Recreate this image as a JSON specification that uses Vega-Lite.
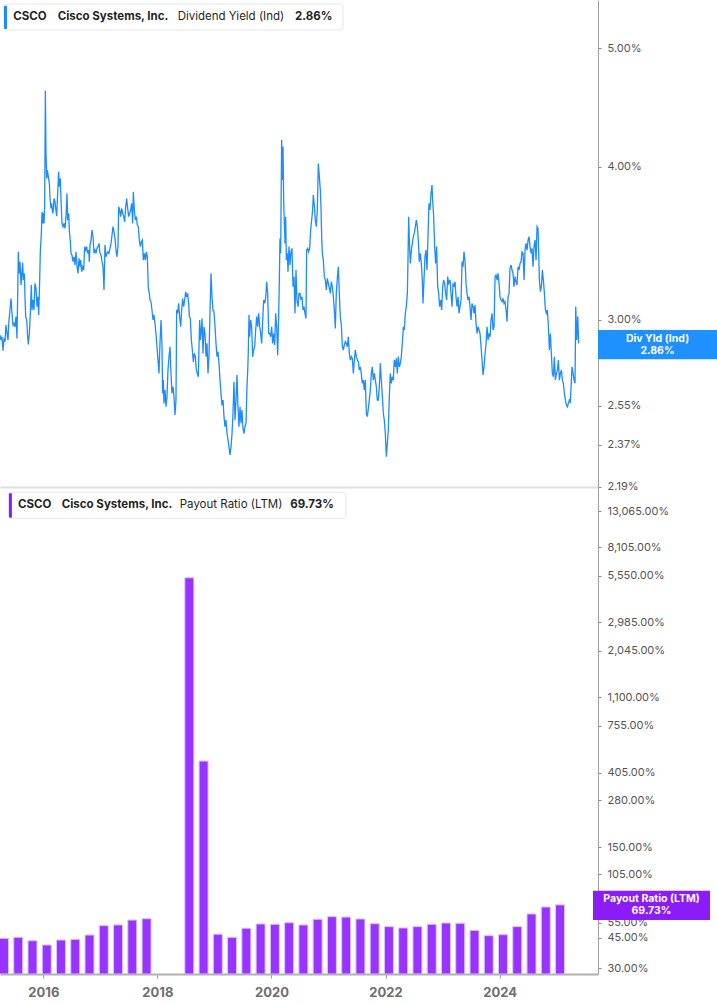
{
  "$schema": "https://vega.github.io/schema/vega-lite/v6.json",
  "padding": 0,
  "background": "white",
  "spacing": 0,
  "bounds": "flush",
  "config": {
    "view": {"stroke": null},
    "axis": {"labelFont": "Inter", "grid": false, "title": null},
    "text": {"font": "Inter"}
  },
  "datasets": {
    "yield": [
      {"year":2015.328,"yield":2.914},{"year":2015.345,"yield":2.887},{"year":2015.362,"yield":2.905},{"year":2015.380,"yield":2.829},{"year":2015.397,"yield":2.896},{"year":2015.414,"yield":2.878},{"year":2015.431,"yield":2.970},{"year":2015.449,"yield":2.923},{"year":2015.466,"yield":2.887},{"year":2015.483,"yield":2.998},{"year":2015.500,"yield":3.055},{"year":2015.518,"yield":3.122},{"year":2015.535,"yield":3.036},{"year":2015.552,"yield":2.970},{"year":2015.569,"yield":2.979},{"year":2015.587,"yield":2.960},{"year":2015.604,"yield":3.017},{"year":2015.621,"yield":2.896},{"year":2015.633,"yield":3.152},{"year":2015.644,"yield":3.409},{"year":2015.656,"yield":3.273},{"year":2015.673,"yield":3.346},{"year":2015.690,"yield":3.202},{"year":2015.707,"yield":3.283},{"year":2015.719,"yield":3.339},{"year":2015.730,"yield":3.232},{"year":2015.748,"yield":3.273},{"year":2015.759,"yield":3.132},{"year":2015.771,"yield":3.017},{"year":2015.788,"yield":2.998},{"year":2015.805,"yield":2.905},{"year":2015.816,"yield":2.863},{"year":2015.834,"yield":2.923},{"year":2015.851,"yield":3.036},{"year":2015.868,"yield":3.202},{"year":2015.880,"yield":3.055},{"year":2015.897,"yield":3.113},{"year":2015.914,"yield":3.055},{"year":2015.931,"yield":3.212},{"year":2015.949,"yield":3.182},{"year":2015.966,"yield":3.074},{"year":2015.983,"yield":3.132},{"year":2015.995,"yield":3.026},{"year":2016.012,"yield":3.232},{"year":2016.023,"yield":3.409},{"year":2016.041,"yield":3.529},{"year":2016.052,"yield":3.676},{"year":2016.064,"yield":3.596},{"year":2016.075,"yield":3.665},{"year":2016.087,"yield":3.596},{"year":2016.098,"yield":3.711},{"year":2016.110,"yield":4.617},{"year":2016.121,"yield":4.103},{"year":2016.133,"yield":3.914},{"year":2016.144,"yield":3.976},{"year":2016.161,"yield":3.927},{"year":2016.179,"yield":3.878},{"year":2016.190,"yield":3.769},{"year":2016.207,"yield":3.699},{"year":2016.219,"yield":3.734},{"year":2016.236,"yield":3.665},{"year":2016.248,"yield":3.688},{"year":2016.259,"yield":3.769},{"year":2016.276,"yield":3.746},{"year":2016.288,"yield":3.699},{"year":2016.305,"yield":3.646},{"year":2016.322,"yield":3.805},{"year":2016.339,"yield":3.964},{"year":2016.351,"yield":3.853},{"year":2016.368,"yield":3.914},{"year":2016.380,"yield":3.758},{"year":2016.397,"yield":3.596},{"year":2016.414,"yield":3.574},{"year":2016.431,"yield":3.596},{"year":2016.449,"yield":3.562},{"year":2016.466,"yield":3.642},{"year":2016.483,"yield":3.805},{"year":2016.495,"yield":3.619},{"year":2016.512,"yield":3.665},{"year":2016.523,"yield":3.551},{"year":2016.541,"yield":3.474},{"year":2016.552,"yield":3.399},{"year":2016.569,"yield":3.388},{"year":2016.587,"yield":3.346},{"year":2016.604,"yield":3.377},{"year":2016.621,"yield":3.325},{"year":2016.638,"yield":3.409},{"year":2016.656,"yield":3.314},{"year":2016.673,"yield":3.273},{"year":2016.690,"yield":3.367},{"year":2016.707,"yield":3.314},{"year":2016.719,"yield":3.356},{"year":2016.736,"yield":3.283},{"year":2016.753,"yield":3.314},{"year":2016.771,"yield":3.294},{"year":2016.788,"yield":3.442},{"year":2016.805,"yield":3.420},{"year":2016.822,"yield":3.442},{"year":2016.839,"yield":3.399},{"year":2016.857,"yield":3.420},{"year":2016.868,"yield":3.346},{"year":2016.880,"yield":3.452},{"year":2016.897,"yield":3.485},{"year":2016.914,"yield":3.551},{"year":2016.931,"yield":3.507},{"year":2016.949,"yield":3.399},{"year":2016.966,"yield":3.420},{"year":2016.983,"yield":3.399},{"year":2017.000,"yield":3.431},{"year":2017.018,"yield":3.442},{"year":2017.035,"yield":3.463},{"year":2017.052,"yield":3.399},{"year":2017.069,"yield":3.388},{"year":2017.087,"yield":3.346},{"year":2017.104,"yield":3.314},{"year":2017.121,"yield":3.172},{"year":2017.138,"yield":3.452},{"year":2017.156,"yield":3.377},{"year":2017.173,"yield":3.399},{"year":2017.190,"yield":3.409},{"year":2017.207,"yield":3.399},{"year":2017.225,"yield":3.431},{"year":2017.242,"yield":3.463},{"year":2017.259,"yield":3.518},{"year":2017.276,"yield":3.574},{"year":2017.294,"yield":3.540},{"year":2017.311,"yield":3.496},{"year":2017.328,"yield":3.420},{"year":2017.345,"yield":3.377},{"year":2017.362,"yield":3.442},{"year":2017.374,"yield":3.711},{"year":2017.391,"yield":3.688},{"year":2017.408,"yield":3.642},{"year":2017.426,"yield":3.699},{"year":2017.443,"yield":3.665},{"year":2017.460,"yield":3.642},{"year":2017.477,"yield":3.607},{"year":2017.495,"yield":3.711},{"year":2017.512,"yield":3.769},{"year":2017.529,"yield":3.699},{"year":2017.546,"yield":3.642},{"year":2017.564,"yield":3.665},{"year":2017.581,"yield":3.688},{"year":2017.598,"yield":3.734},{"year":2017.615,"yield":3.596},{"year":2017.627,"yield":3.817},{"year":2017.644,"yield":3.688},{"year":2017.661,"yield":3.619},{"year":2017.679,"yield":3.642},{"year":2017.696,"yield":3.585},{"year":2017.713,"yield":3.574},{"year":2017.730,"yield":3.485},{"year":2017.748,"yield":3.442},{"year":2017.765,"yield":3.474},{"year":2017.782,"yield":3.485},{"year":2017.799,"yield":3.356},{"year":2017.816,"yield":3.399},{"year":2017.834,"yield":3.356},{"year":2017.851,"yield":3.409},{"year":2017.868,"yield":3.377},{"year":2017.885,"yield":3.182},{"year":2017.903,"yield":3.152},
      {"year":2017.914,"yield":3.113},{"year":2017.931,"yield":3.103},{"year":2017.948,"yield":3.055},{"year":2017.966,"yield":2.998},{"year":2017.983,"yield":3.026},{"year":2018.000,"yield":2.979},{"year":2018.017,"yield":2.923},{"year":2018.035,"yield":2.851},{"year":2018.052,"yield":2.780},{"year":2018.069,"yield":2.711},{"year":2018.086,"yield":2.869},{"year":2018.104,"yield":2.998},{"year":2018.121,"yield":2.851},{"year":2018.132,"yield":2.611},{"year":2018.144,"yield":2.677},{"year":2018.155,"yield":2.562},{"year":2018.173,"yield":2.627},{"year":2018.190,"yield":2.546},{"year":2018.207,"yield":2.595},{"year":2018.224,"yield":2.728},{"year":2018.242,"yield":2.798},{"year":2018.259,"yield":2.851},{"year":2018.276,"yield":2.711},{"year":2018.293,"yield":2.611},{"year":2018.311,"yield":2.644},{"year":2018.328,"yield":2.595},{"year":2018.345,"yield":2.507},{"year":2018.362,"yield":2.578},{"year":2018.374,"yield":3.055},{"year":2018.391,"yield":3.036},{"year":2018.408,"yield":3.093},{"year":2018.425,"yield":3.017},{"year":2018.443,"yield":2.960},{"year":2018.460,"yield":3.055},{"year":2018.477,"yield":3.122},{"year":2018.494,"yield":3.074},{"year":2018.512,"yield":3.113},{"year":2018.529,"yield":3.162},{"year":2018.546,"yield":3.132},{"year":2018.563,"yield":3.152},{"year":2018.581,"yield":3.093},{"year":2018.592,"yield":3.017},{"year":2018.609,"yield":3.007},{"year":2018.627,"yield":2.887},{"year":2018.644,"yield":2.833},{"year":2018.661,"yield":2.771},{"year":2018.678,"yield":2.815},{"year":2018.696,"yield":2.798},{"year":2018.713,"yield":2.728},{"year":2018.730,"yield":2.711},{"year":2018.747,"yield":2.694},{"year":2018.759,"yield":2.851},{"year":2018.770,"yield":2.998},{"year":2018.782,"yield":2.887},{"year":2018.793,"yield":2.923},{"year":2018.811,"yield":3.007},{"year":2018.828,"yield":2.815},{"year":2018.845,"yield":2.960},{"year":2018.862,"yield":2.923},{"year":2018.880,"yield":2.798},{"year":2018.897,"yield":2.869},{"year":2018.914,"yield":2.711},{"year":2018.931,"yield":2.798},{"year":2018.948,"yield":3.036},{"year":2018.966,"yield":3.273},{"year":2018.983,"yield":3.132},{"year":2019.000,"yield":3.055},{"year":2019.017,"yield":3.045},{"year":2019.035,"yield":2.960},{"year":2019.052,"yield":2.869},{"year":2019.069,"yield":2.798},{"year":2019.086,"yield":2.824},{"year":2019.104,"yield":2.763},{"year":2019.121,"yield":2.677},{"year":2019.138,"yield":2.611},{"year":2019.155,"yield":2.554},{"year":2019.173,"yield":2.578},{"year":2019.190,"yield":2.499},{"year":2019.207,"yield":2.452},{"year":2019.224,"yield":2.483},{"year":2019.242,"yield":2.421},{"year":2019.259,"yield":2.391},{"year":2019.276,"yield":2.361},{"year":2019.293,"yield":2.325},{"year":2019.311,"yield":2.361},{"year":2019.328,"yield":2.421},{"year":2019.345,"yield":2.514},{"year":2019.362,"yield":2.669},{"year":2019.380,"yield":2.483},{"year":2019.397,"yield":2.578},{"year":2019.414,"yield":2.703},{"year":2019.431,"yield":2.546},{"year":2019.448,"yield":2.452},{"year":2019.466,"yield":2.546},{"year":2019.483,"yield":2.468},{"year":2019.500,"yield":2.530},{"year":2019.517,"yield":2.444},{"year":2019.535,"yield":2.421},{"year":2019.552,"yield":2.452},{"year":2019.569,"yield":2.468},{"year":2019.586,"yield":2.644},{"year":2019.598,"yield":2.720},{"year":2019.609,"yield":2.824},{"year":2019.621,"yield":3.026},{"year":2019.632,"yield":2.905},{"year":2019.650,"yield":2.998},{"year":2019.667,"yield":2.960},{"year":2019.684,"yield":2.798},{"year":2019.701,"yield":2.833},{"year":2019.719,"yield":2.851},{"year":2019.736,"yield":2.942},{"year":2019.753,"yield":3.017},{"year":2019.770,"yield":2.960},{"year":2019.788,"yield":3.036},{"year":2019.805,"yield":2.960},{"year":2019.822,"yield":2.923},{"year":2019.839,"yield":2.869},{"year":2019.857,"yield":2.998},{"year":2019.874,"yield":3.113},{"year":2019.891,"yield":3.093},{"year":2019.908,"yield":3.122},{"year":2019.925,"yield":3.222},{"year":2019.943,"yield":3.152},{"year":2019.960,"yield":2.923},{"year":2019.977,"yield":2.923},{"year":2019.994,"yield":2.905},{"year":2020.012,"yield":2.960},{"year":2020.029,"yield":2.869},{"year":2020.046,"yield":2.923},{"year":2020.063,"yield":2.860},{"year":2020.081,"yield":3.036},{"year":2020.098,"yield":2.960},{"year":2020.115,"yield":2.806},{"year":2020.132,"yield":3.017},{"year":2020.144,"yield":3.232},{"year":2020.155,"yield":3.496},{"year":2020.167,"yield":3.399},{"year":2020.184,"yield":4.207},{"year":2020.196,"yield":3.902},{"year":2020.207,"yield":4.155},{"year":2020.219,"yield":3.758},{"year":2020.230,"yield":3.596},{"year":2020.242,"yield":3.463},{"year":2020.253,"yield":3.642},{"year":2020.265,"yield":3.356},{"year":2020.282,"yield":3.399},{"year":2020.293,"yield":3.283},{"year":2020.311,"yield":3.442},{"year":2020.328,"yield":3.325},{"year":2020.345,"yield":3.409},{"year":2020.362,"yield":3.431},{"year":2020.380,"yield":3.192},{"year":2020.397,"yield":3.253},{"year":2020.414,"yield":3.036},{"year":2020.431,"yield":3.294},{"year":2020.448,"yield":3.113},{"year":2020.466,"yield":3.074},{"year":2020.483,"yield":3.152},
      {"year":2020.500,"yield":3.152},{"year":2020.517,"yield":3.113},{"year":2020.534,"yield":3.132},{"year":2020.552,"yield":3.055},{"year":2020.569,"yield":3.074},{"year":2020.586,"yield":3.036},{"year":2020.603,"yield":3.007},{"year":2020.615,"yield":3.420},{"year":2020.632,"yield":3.431},{"year":2020.649,"yield":3.409},{"year":2020.667,"yield":3.431},{"year":2020.684,"yield":3.551},{"year":2020.701,"yield":3.619},{"year":2020.718,"yield":3.688},{"year":2020.730,"yield":3.793},{"year":2020.747,"yield":3.723},{"year":2020.764,"yield":3.619},{"year":2020.782,"yield":3.574},{"year":2020.799,"yield":3.688},{"year":2020.816,"yield":4.026},{"year":2020.833,"yield":3.927},{"year":2020.851,"yield":3.829},{"year":2020.862,"yield":3.711},{"year":2020.874,"yield":3.507},{"year":2020.885,"yield":3.399},{"year":2020.902,"yield":3.356},{"year":2020.920,"yield":3.253},{"year":2020.937,"yield":3.232},{"year":2020.954,"yield":3.172},{"year":2020.971,"yield":3.243},{"year":2020.989,"yield":3.212},{"year":2021.006,"yield":3.182},{"year":2021.023,"yield":3.152},{"year":2021.040,"yield":3.222},{"year":2021.057,"yield":3.192},{"year":2021.075,"yield":3.132},{"year":2021.092,"yield":3.055},{"year":2021.109,"yield":2.951},{"year":2021.126,"yield":3.152},{"year":2021.144,"yield":3.243},{"year":2021.161,"yield":3.314},{"year":2021.178,"yield":3.152},{"year":2021.195,"yield":3.017},{"year":2021.213,"yield":2.970},{"year":2021.230,"yield":2.851},{"year":2021.247,"yield":2.833},{"year":2021.264,"yield":2.860},{"year":2021.282,"yield":2.878},{"year":2021.299,"yield":2.869},{"year":2021.316,"yield":2.851},{"year":2021.333,"yield":2.905},{"year":2021.351,"yield":2.815},{"year":2021.368,"yield":2.780},{"year":2021.385,"yield":2.798},{"year":2021.402,"yield":2.789},{"year":2021.420,"yield":2.711},{"year":2021.437,"yield":2.780},{"year":2021.454,"yield":2.833},{"year":2021.471,"yield":2.798},{"year":2021.489,"yield":2.780},{"year":2021.506,"yield":2.771},{"year":2021.523,"yield":2.728},{"year":2021.540,"yield":2.745},{"year":2021.557,"yield":2.711},{"year":2021.575,"yield":2.661},{"year":2021.592,"yield":2.677},{"year":2021.609,"yield":2.627},{"year":2021.626,"yield":2.677},{"year":2021.644,"yield":2.514},{"year":2021.661,"yield":2.499},{"year":2021.678,"yield":2.538},{"year":2021.695,"yield":2.578},{"year":2021.713,"yield":2.627},{"year":2021.730,"yield":2.711},{"year":2021.747,"yield":2.745},{"year":2021.764,"yield":2.677},{"year":2021.782,"yield":2.711},{"year":2021.799,"yield":2.677},{"year":2021.816,"yield":2.644},{"year":2021.833,"yield":2.578},{"year":2021.851,"yield":2.578},{"year":2021.868,"yield":2.644},{"year":2021.885,"yield":2.763},{"year":2021.902,"yield":2.677},{"year":2021.920,"yield":2.595},{"year":2021.937,"yield":2.514},{"year":2021.954,"yield":2.483},{"year":2021.971,"yield":2.421},{"year":2021.989,"yield":2.317},{"year":2022.006,"yield":2.376},{"year":2022.023,"yield":2.437},{"year":2022.040,"yield":2.595},{"year":2022.057,"yield":2.711},{"year":2022.075,"yield":2.661},{"year":2022.092,"yield":2.694},{"year":2022.109,"yield":2.677},{"year":2022.126,"yield":2.780},{"year":2022.144,"yield":2.745},{"year":2022.161,"yield":2.789},{"year":2022.178,"yield":2.711},{"year":2022.195,"yield":2.798},{"year":2022.213,"yield":2.745},{"year":2022.230,"yield":2.763},{"year":2022.247,"yield":2.798},{"year":2022.264,"yield":2.869},{"year":2022.282,"yield":2.960},{"year":2022.299,"yield":2.942},{"year":2022.316,"yield":3.036},{"year":2022.333,"yield":3.074},{"year":2022.351,"yield":3.152},{"year":2022.362,"yield":3.356},{"year":2022.374,"yield":3.642},{"year":2022.385,"yield":3.485},{"year":2022.402,"yield":3.335},{"year":2022.420,"yield":3.420},{"year":2022.437,"yield":3.463},{"year":2022.454,"yield":3.507},{"year":2022.471,"yield":3.529},{"year":2022.489,"yield":3.574},{"year":2022.506,"yield":3.619},{"year":2022.523,"yield":3.574},{"year":2022.540,"yield":3.485},{"year":2022.557,"yield":3.346},{"year":2022.575,"yield":3.399},{"year":2022.592,"yield":3.335},{"year":2022.609,"yield":3.232},{"year":2022.621,"yield":3.093},{"year":2022.638,"yield":3.232},{"year":2022.655,"yield":3.377},{"year":2022.672,"yield":3.420},{"year":2022.690,"yield":3.294},{"year":2022.707,"yield":3.507},{"year":2022.724,"yield":3.734},{"year":2022.741,"yield":3.688},{"year":2022.759,"yield":3.805},{"year":2022.776,"yield":3.865},{"year":2022.787,"yield":3.758},{"year":2022.805,"yield":3.642},{"year":2022.822,"yield":3.442},{"year":2022.839,"yield":3.335},{"year":2022.856,"yield":3.442},{"year":2022.874,"yield":3.192},{"year":2022.891,"yield":3.152},{"year":2022.908,"yield":3.074},{"year":2022.925,"yield":3.113},{"year":2022.943,"yield":3.055},{"year":2022.960,"yield":3.192},{"year":2022.977,"yield":3.232},{"year":2022.994,"yield":3.212},{"year":2023.011,"yield":3.152},{"year":2023.029,"yield":3.113},{"year":2023.046,"yield":3.253},{"year":2023.063,"yield":3.212},
      {"year":2023.087,"yield":3.232},{"year":2023.104,"yield":3.152},{"year":2023.121,"yield":3.074},{"year":2023.139,"yield":3.212},{"year":2023.156,"yield":3.192},{"year":2023.173,"yield":3.222},{"year":2023.190,"yield":3.132},{"year":2023.208,"yield":3.074},{"year":2023.225,"yield":3.132},{"year":2023.242,"yield":3.036},{"year":2023.259,"yield":3.074},{"year":2023.277,"yield":3.113},{"year":2023.294,"yield":3.346},{"year":2023.311,"yield":3.314},{"year":2023.328,"yield":3.409},{"year":2023.346,"yield":3.346},{"year":2023.363,"yield":3.212},{"year":2023.380,"yield":3.152},{"year":2023.397,"yield":3.113},{"year":2023.415,"yield":3.132},{"year":2023.432,"yield":3.074},{"year":2023.449,"yield":2.998},{"year":2023.466,"yield":3.093},{"year":2023.484,"yield":3.074},{"year":2023.501,"yield":3.036},{"year":2023.518,"yield":3.084},{"year":2023.535,"yield":2.979},{"year":2023.553,"yield":2.923},{"year":2023.570,"yield":2.960},{"year":2023.587,"yield":2.942},{"year":2023.604,"yield":2.923},{"year":2023.622,"yield":2.851},{"year":2023.639,"yield":2.780},{"year":2023.656,"yield":2.703},{"year":2023.673,"yield":2.745},{"year":2023.691,"yield":2.815},{"year":2023.708,"yield":2.869},{"year":2023.725,"yield":2.960},{"year":2023.742,"yield":2.887},{"year":2023.760,"yield":2.923},{"year":2023.777,"yield":2.905},{"year":2023.794,"yield":2.998},{"year":2023.811,"yield":3.036},{"year":2023.829,"yield":2.942},{"year":2023.846,"yield":2.960},{"year":2023.863,"yield":3.253},{"year":2023.880,"yield":3.263},{"year":2023.898,"yield":3.232},{"year":2023.915,"yield":3.273},{"year":2023.932,"yield":3.212},{"year":2023.949,"yield":3.132},{"year":2023.967,"yield":3.113},{"year":2023.984,"yield":3.103},{"year":2024.001,"yield":3.122},{"year":2024.018,"yield":3.093},{"year":2024.035,"yield":3.103},{"year":2024.053,"yield":3.055},{"year":2024.070,"yield":2.988},{"year":2024.087,"yield":3.132},{"year":2024.104,"yield":3.152},{"year":2024.121,"yield":3.304},{"year":2024.139,"yield":3.325},{"year":2024.156,"yield":3.294},{"year":2024.173,"yield":3.273},{"year":2024.190,"yield":3.192},{"year":2024.208,"yield":3.253},{"year":2024.225,"yield":3.222},{"year":2024.242,"yield":3.202},{"year":2024.259,"yield":3.314},{"year":2024.277,"yield":3.294},{"year":2024.294,"yield":3.335},{"year":2024.311,"yield":3.346},{"year":2024.328,"yield":3.409},{"year":2024.346,"yield":3.399},{"year":2024.363,"yield":3.232},{"year":2024.380,"yield":3.420},{"year":2024.397,"yield":3.463},{"year":2024.415,"yield":3.420},{"year":2024.432,"yield":3.485},{"year":2024.449,"yield":3.507},{"year":2024.466,"yield":3.442},{"year":2024.484,"yield":3.399},{"year":2024.501,"yield":3.431},{"year":2024.518,"yield":3.314},{"year":2024.535,"yield":3.442},{"year":2024.553,"yield":3.485},{"year":2024.570,"yield":3.356},{"year":2024.587,"yield":3.574},{"year":2024.604,"yield":3.562},{"year":2024.616,"yield":3.399},{"year":2024.627,"yield":3.232},{"year":2024.645,"yield":3.162},{"year":2024.662,"yield":3.192},{"year":2024.679,"yield":3.294},{"year":2024.696,"yield":3.232},{"year":2024.714,"yield":3.152},{"year":2024.731,"yield":3.055},{"year":2024.748,"yield":3.036},{"year":2024.765,"yield":3.055},{"year":2024.783,"yield":2.960},{"year":2024.800,"yield":2.833},{"year":2024.817,"yield":2.923},{"year":2024.834,"yield":2.815},{"year":2024.851,"yield":2.711},{"year":2024.869,"yield":2.694},{"year":2024.886,"yield":2.798},{"year":2024.903,"yield":2.677},{"year":2024.920,"yield":2.711},{"year":2024.938,"yield":2.728},{"year":2024.955,"yield":2.780},{"year":2024.972,"yield":2.677},{"year":2024.989,"yield":2.711},{"year":2025.007,"yield":2.728},{"year":2025.024,"yield":2.677},{"year":2025.041,"yield":2.661},{"year":2025.058,"yield":2.611},{"year":2025.076,"yield":2.578},{"year":2025.093,"yield":2.554},{"year":2025.110,"yield":2.546},{"year":2025.127,"yield":2.562},{"year":2025.145,"yield":2.578},{"year":2025.162,"yield":2.570},{"year":2025.179,"yield":2.677},{"year":2025.190,"yield":2.745},{"year":2025.208,"yield":2.711},{"year":2025.225,"yield":2.677},{"year":2025.242,"yield":2.661},{"year":2025.254,"yield":3.074},{"year":2025.271,"yield":2.887},{"year":2025.288,"yield":3.017},{"year":2025.305,"yield":2.869}
    ],
    "payout": [
      {"year":2015.31,"ratio":44.7},{"year":2015.56,"ratio":45.3},{"year":2015.81,"ratio":43.3},{"year":2016.06,"ratio":40.9},{"year":2016.31,"ratio":43.7},{"year":2016.56,"ratio":44.1},{"year":2016.81,"ratio":46.7},{"year":2017.06,"ratio":52.9},{"year":2017.31,"ratio":53.4},{"year":2017.56,"ratio":57.0},{"year":2017.81,"ratio":58.0},{"year":2018.56,"ratio":5400},{"year":2018.81,"ratio":472},{"year":2019.06,"ratio":47.2},{"year":2019.31,"ratio":45.3},{"year":2019.56,"ratio":51.1},{"year":2019.81,"ratio":54.1},{"year":2020.06,"ratio":53.9},{"year":2020.31,"ratio":55.0},{"year":2020.56,"ratio":53.4},{"year":2020.81,"ratio":57.6},{"year":2021.06,"ratio":59.6},{"year":2021.31,"ratio":59.3},{"year":2021.56,"ratio":57.8},{"year":2021.81,"ratio":54.3},{"year":2022.06,"ratio":52.2},{"year":2022.31,"ratio":51.3},{"year":2022.56,"ratio":52.2},{"year":2022.81,"ratio":53.9},{"year":2023.06,"ratio":54.8},{"year":2023.31,"ratio":54.6},{"year":2023.56,"ratio":49.7},{"year":2023.81,"ratio":46.3},{"year":2024.06,"ratio":46.9},{"year":2024.31,"ratio":52.2},{"year":2024.56,"ratio":61.8},{"year":2024.81,"ratio":67.8},{"year":2025.06,"ratio":69.73}
    ],
    "yieldInfo": [{"ticker":"CSCO","company":"Cisco Systems, Inc.","metric":"Dividend Yield (Ind)","last":"2.86%","short":"Div Yld (Ind)"}],
    "payoutInfo": [{"ticker":"CSCO","company":"Cisco Systems, Inc.","metric":"Payout Ratio (LTM)","last":"69.73%","short":"Payout Ratio (LTM)"}]
  },
  "vconcat": [
    {
      "width": 598,
      "height": 487,
      "layer": [
        {
          "data": {"name": "yield"},
          "mark": {"type": "line", "color": "#1e8cff", "strokeWidth": 1.3, "clip": true},
          "encoding": {
            "x": {"field": "year", "type": "quantitative",
                  "scale": {"domain": [2015.328, 2025.638], "nice": false, "zero": false},
                  "axis": {"labels": false, "ticks": false, "domainColor": "#e0e0e0", "domainWidth": 2}},
            "y": {"field": "yield", "type": "quantitative",
                  "scale": {"type": "log", "domain": [2.189, 5.477], "nice": false},
                  "axis": {"orient": "right", "values": [2.19, 2.37, 2.55, 3, 4, 5],
                           "labelExpr": "format(datum.value, '.2f') + '%'",
                           "labelFontSize": 11, "labelColor": "#555555", "labelPadding": 6,
                           "tickSize": 3, "tickColor": "#888888", "domainColor": "#9e9e9e", "labelOverlap": false}}
          }
        },
        {
          "data": {"name": "yieldInfo"},
          "mark": {"type": "rect", "fill": "white", "stroke": "#e6e6e6", "strokeWidth": 1, "cornerRadius": 3},
          "encoding": {"x": {"datum": 2015.397}, "x2": {"datum": 2021.242}, "y": {"datum": 5.436}, "y2": {"datum": 5.176}}
        },
        {
          "data": {"name": "yieldInfo"},
          "mark": {"type": "rect", "fill": "#1e8cff", "cornerRadius": 1},
          "encoding": {"x": {"datum": 2015.397}, "x2": {"datum": 2015.449}, "y": {"datum": 5.418}, "y2": {"datum": 5.186}}
        },
        {
          "data": {"name": "yieldInfo"},
          "mark": {"type": "text", "align": "left", "baseline": "middle", "fontSize": 11.5, "fontWeight": "bold", "color": "#1f1f1f"},
          "encoding": {"x": {"datum": 2015.557}, "y": {"datum": 5.309}, "text": {"field": "ticker"}}
        },
        {
          "data": {"name": "yieldInfo"},
          "mark": {"type": "text", "align": "left", "baseline": "middle", "fontSize": 11.5, "fontWeight": "bold", "color": "#1f1f1f"},
          "encoding": {"x": {"datum": 2016.323}, "y": {"datum": 5.309}, "text": {"field": "company"}}
        },
        {
          "data": {"name": "yieldInfo"},
          "mark": {"type": "text", "align": "left", "baseline": "middle", "fontSize": 11.5, "fontWeight": "normal", "color": "#1f1f1f"},
          "encoding": {"x": {"datum": 2018.392}, "y": {"datum": 5.309}, "text": {"field": "metric"}}
        },
        {
          "data": {"name": "yieldInfo"},
          "mark": {"type": "text", "align": "left", "baseline": "middle", "fontSize": 11.5, "fontWeight": "bold", "color": "#1f1f1f"},
          "encoding": {"x": {"datum": 2020.414}, "y": {"datum": 5.309}, "text": {"field": "last"}}
        },
        {
          "data": {"name": "yieldInfo"},
          "mark": {"type": "rect", "fill": "#1e90ff"},
          "encoding": {"x": {"datum": 2025.638}, "x2": {"datum": 2027.69}, "y": {"datum": 2.942}, "y2": {"datum": 2.784}}
        },
        {
          "data": {"name": "yieldInfo"},
          "mark": {"type": "text", "align": "center", "baseline": "middle", "fontSize": 10.5, "fontWeight": "bold", "color": "white"},
          "encoding": {"x": {"datum": 2026.664}, "y": {"datum": 2.8923}, "text": {"field": "short"}}
        },
        {
          "data": {"name": "yieldInfo"},
          "mark": {"type": "text", "align": "center", "baseline": "middle", "fontSize": 10.5, "fontWeight": "bold", "color": "white"},
          "encoding": {"x": {"datum": 2026.664}, "y": {"datum": 2.8304}, "text": {"field": "last"}}
        }
      ]
    },
    {
      "width": 598,
      "height": 487,
      "layer": [
        {
          "data": {"name": "payout"},
          "mark": {"type": "bar", "size": 9, "color": "#9933ff", "stroke": "#dcc2ff", "strokeWidth": 1, "clip": true},
          "encoding": {
            "x": {"field": "year", "type": "quantitative",
                  "scale": {"domain": [2015.328, 2025.638], "nice": false, "zero": false},
                  "axis": {"values": [2016, 2018, 2020, 2022, 2024], "format": "d",
                           "labelFontSize": 13, "labelFontWeight": "bold", "labelColor": "#6e6e6e",
                           "labelPadding": 8, "tickSize": 4, "tickColor": "#999999",
                           "domainColor": "#b0b0b0", "domainWidth": 2, "labelFlush": false}},
            "y": {"field": "ratio", "type": "quantitative",
                  "scale": {"type": "log", "domain": [27.81, 18057], "nice": false},
                  "axis": {"orient": "right", "values": [30, 45, 55, 105, 150, 280, 405, 755, 1100, 2045, 2985, 5550, 8105, 13065],
                           "labelExpr": "format(datum.value, ',.2f') + '%'",
                           "labelFontSize": 11, "labelColor": "#555555", "labelPadding": 6,
                           "tickSize": 3, "tickColor": "#888888", "domainColor": "#9e9e9e", "labelOverlap": false}},
            "y2": {"datum": 27.81}
          }
        },
        {
          "data": {"name": "payoutInfo"},
          "mark": {"type": "rect", "fill": "white", "stroke": "#e6e6e6", "strokeWidth": 1, "cornerRadius": 3},
          "encoding": {"x": {"datum": 2015.397}, "x2": {"datum": 2021.306}, "y": {"datum": 16833}, "y2": {"datum": 11912}}
        },
        {
          "data": {"name": "payoutInfo"},
          "mark": {"type": "rect", "fill": "#8c1aff", "cornerRadius": 1},
          "encoding": {"x": {"datum": 2015.397}, "x2": {"datum": 2015.449}, "y": {"datum": 16599}, "y2": {"datum": 12003}}
        },
        {
          "data": {"name": "payoutInfo"},
          "mark": {"type": "text", "align": "left", "baseline": "middle", "fontSize": 11.5, "fontWeight": "bold", "color": "#1f1f1f"},
          "encoding": {"x": {"datum": 2015.557}, "y": {"datum": 14213}, "text": {"field": "ticker"}}
        },
        {
          "data": {"name": "payoutInfo"},
          "mark": {"type": "text", "align": "left", "baseline": "middle", "fontSize": 11.5, "fontWeight": "bold", "color": "#1f1f1f"},
          "encoding": {"x": {"datum": 2016.323}, "y": {"datum": 14213}, "text": {"field": "company"}}
        },
        {
          "data": {"name": "payoutInfo"},
          "mark": {"type": "text", "align": "left", "baseline": "middle", "fontSize": 11.5, "fontWeight": "normal", "color": "#1f1f1f"},
          "encoding": {"x": {"datum": 2018.392}, "y": {"datum": 14213}, "text": {"field": "metric"}}
        },
        {
          "data": {"name": "payoutInfo"},
          "mark": {"type": "text", "align": "left", "baseline": "middle", "fontSize": 11.5, "fontWeight": "bold", "color": "#1f1f1f"},
          "encoding": {"x": {"datum": 2020.328}, "y": {"datum": 14213}, "text": {"field": "last"}}
        },
        {
          "data": {"name": "payoutInfo"},
          "mark": {"type": "rect", "fill": "#8b1cf7"},
          "encoding": {"x": {"datum": 2025.638}, "x2": {"datum": 2027.69}, "y": {"datum": 84.2}, "y2": {"datum": 57.0}}
        },
        {
          "data": {"name": "payoutInfo"},
          "mark": {"type": "text", "align": "center", "baseline": "middle", "fontSize": 10.5, "fontWeight": "bold", "color": "white"},
          "encoding": {"x": {"datum": 2026.664}, "y": {"datum": 74.9}, "text": {"field": "short"}}
        },
        {
          "data": {"name": "payoutInfo"},
          "mark": {"type": "text", "align": "center", "baseline": "middle", "fontSize": 10.5, "fontWeight": "bold", "color": "white"},
          "encoding": {"x": {"datum": 2026.664}, "y": {"datum": 64.3}, "text": {"field": "last"}}
        }
      ]
    }
  ]
}
